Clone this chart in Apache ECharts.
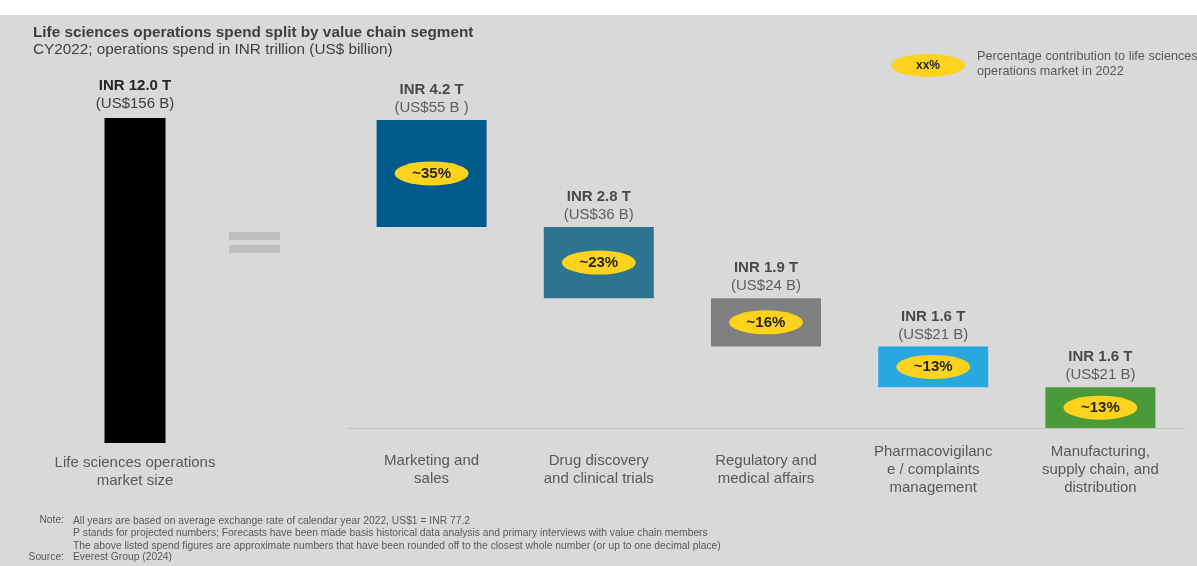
<!DOCTYPE html>
<html>
<head>
<meta charset="utf-8">
<script src="https://cdn.jsdelivr.net/npm/echarts@6/dist/echarts.min.js"></script>
<style>
  html, body { margin: 0; padding: 0; background: #ffffff; }
  #chart { width: 1197px; height: 566px; }
</style>
</head>
<body>
<div id="chart"></div>
<script>
// total market
const totalLabel = 'Life sciences operations\nmarket size'
const totalInr = 12.0
const totalUsd = 156

// segments
const segments = [
  'Marketing and\nsales',
  'Drug discovery\nand clinical trials',
  'Regulatory and\nmedical affairs',
  'Pharmacovigilanc\ne / complaints\nmanagement',
  'Manufacturing,\nsupply chain, and\ndistribution',
]
const inrValues = [4.2, 2.8, 1.9, 1.6, 1.6]
const usdLabels = ['US$55 B ', 'US$36 B', 'US$24 B', 'US$21 B', 'US$21 B']
const shares = [35, 23, 16, 13, 13]
const colors = ['#005a8c', '#2d7491', '#7f7f7f', '#29a8e0', '#4a9a3a']

const notes = [
  'All years are based on average exchange rate of calendar year 2022, US$1 = INR 77.2',
  'P stands for projected numbers; Forecasts have been made basis historical data analysis and primary interviews with value chain members',
  'The above listed spend figures are approximate numbers that have been rounded off to the closest whole number (or up to one decimal place)',
]
const source = 'Everest Group (2024)'

// invisible bases: each segment sits on the ones to its right
const bases = inrValues.map((_, i) =>
  +inrValues.slice(i + 1).reduce((a, b) => a + b, 0).toFixed(1))
const tops = bases.map((b, i) => +(b + inrValues[i]).toFixed(1))
const mids = bases.map((b, i) => b + inrValues[i] / 2)
const stackMax = tops[0]

const FONT = '"Liberation Sans", Arial, sans-serif'
const YELLOW = '#fdd31d'

const topRich = {
  b: { fontFamily: FONT, fontSize: 15, fontWeight: 'bold', color: '#262626', lineHeight: 18 },
  n: { fontFamily: FONT, fontSize: 15, color: '#404040', lineHeight: 18 },
}
const catLabel = {
  fontFamily: FONT, fontSize: 15, color: '#595959', lineHeight: 18,
  verticalAlign: 'middle', interval: 0,
}

const chart = echarts.init(document.getElementById('chart'))
chart.setOption({
  animation: false,
  textStyle: { fontFamily: FONT },
  grid: [
    { left: 85, width: 100, top: 118, height: 325 },
    { left: 348, width: 836, top: 120, height: 308 },
  ],
  xAxis: [
    {
      gridIndex: 0, type: 'category', data: [totalLabel],
      axisLine: { show: false }, axisTick: { show: false },
      axisLabel: { ...catLabel, margin: 29 },
    },
    {
      gridIndex: 1, type: 'category', data: segments,
      axisLine: { lineStyle: { color: '#c4c4c4', width: 1 } }, axisTick: { show: false },
      axisLabel: { ...catLabel, margin: 42 },
    },
  ],
  yAxis: [
    { gridIndex: 0, type: 'value', min: 0, max: totalInr, show: false },
    { gridIndex: 1, type: 'value', min: 0, max: stackMax, show: false },
  ],
  series: [
    {
      type: 'bar', xAxisIndex: 0, yAxisIndex: 0, barWidth: 61,
      data: [totalInr],
      itemStyle: { color: '#000000' },
      label: {
        show: true, position: 'top', distance: 5, rich: topRich,
        formatter: () => `{b|INR ${totalInr.toFixed(1)} T}\n{n|(US$${totalUsd} B)}`,
      },
    },
    {
      type: 'bar', xAxisIndex: 1, yAxisIndex: 1, stack: 'seg', barWidth: 110,
      data: bases, itemStyle: { color: 'transparent' }, silent: true,
    },
    {
      type: 'bar', xAxisIndex: 1, yAxisIndex: 1, stack: 'seg', barWidth: 110,
      data: inrValues.map((v, i) => ({ value: v, itemStyle: { color: colors[i] } })),
    },
    {
      // yellow share ovals in the middle of each segment
      type: 'scatter', xAxisIndex: 1, yAxisIndex: 1, symbol: 'circle', symbolSize: [74, 24],
      data: mids, itemStyle: { color: YELLOW, opacity: 1 }, z: 5,
      label: {
        show: true, position: 'inside', fontFamily: FONT, fontSize: 15, fontWeight: 'bold', color: '#262626',
        formatter: p => `~${shares[p.dataIndex]}%`,
      },
    },
    {
      type: 'scatter', xAxisIndex: 1, yAxisIndex: 1, symbolSize: 0,
      data: tops,
      label: {
        show: true, position: 'top', distance: 3, rich: topRich,
        formatter: p => `{b|INR ${inrValues[p.dataIndex].toFixed(1)} T}\n{n|(${usdLabels[p.dataIndex]})}`,
      },
    },
  ],
  graphic: [
    { type: 'rect', z: -10, shape: { x: 0, y: 15, width: 1197, height: 551 }, style: { fill: '#d9d9d9' } },
    {
      type: 'text', left: 33, top: 25,
      style: { text: 'Life sciences operations spend split by value chain segment', font: `bold 15.3px ${FONT}`, fill: '#404040' },
    },
    {
      type: 'text', left: 33, top: 42,
      style: { text: 'CY2022; operations spend in INR trillion (US$ billion)', font: `15.3px ${FONT}`, fill: '#404040' },
    },
    // equals sign
    { type: 'rect', shape: { x: 229, y: 232, width: 51, height: 8 }, style: { fill: '#bfbfbf' } },
    { type: 'rect', shape: { x: 229, y: 245, width: 51, height: 8 }, style: { fill: '#bfbfbf' } },
    // legend
    { type: 'ellipse', shape: { cx: 928, cy: 65.5, rx: 37, ry: 11.5 }, style: { fill: YELLOW } },
    {
      type: 'text', x: 928, y: 66,
      style: { text: 'xx%', font: `bold 12px ${FONT}`, fill: '#262626', align: 'center', verticalAlign: 'middle' },
    },
    {
      type: 'text', left: 977, top: 49,
      style: { text: 'Percentage contribution to life sciences\noperations market in 2022', font: `12.7px ${FONT}`, lineHeight: 15, fill: '#595959' },
    },
    // notes
    {
      type: 'text', x: 64, y: 515,
      style: { text: 'Note:', font: `10.3px ${FONT}`, fill: '#595959', align: 'right' },
    },
    {
      type: 'text', x: 73, y: 515,
      style: { text: notes.join('\n'), font: `10.3px ${FONT}`, lineHeight: 12.4, fill: '#595959' },
    },
    {
      type: 'text', x: 64, y: 552,
      style: { text: 'Source:', font: `10.3px ${FONT}`, fill: '#595959', align: 'right' },
    },
    {
      type: 'text', x: 73, y: 552,
      style: { text: source, font: `10.3px ${FONT}`, fill: '#595959' },
    },
  ],
})
</script>
</body>
</html>
